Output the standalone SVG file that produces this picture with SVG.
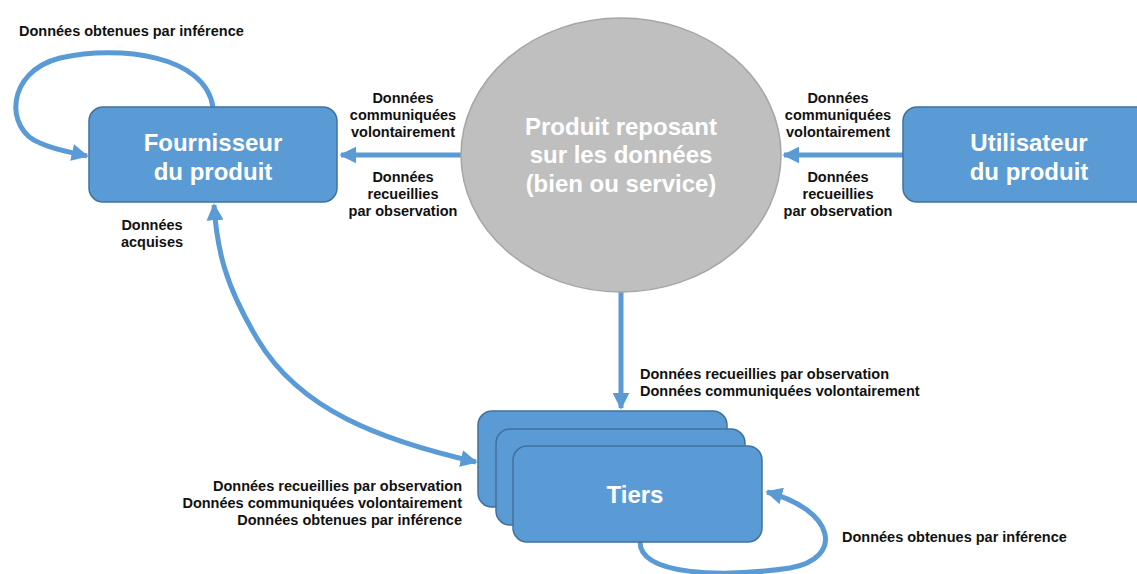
<svg xmlns="http://www.w3.org/2000/svg" width="1137" height="574" viewBox="0 0 1137 574">
  <style>
    .box { fill: #5b9bd5; stroke: #41719c; stroke-width: 1.5; }
    .oval { fill: #bfbfbf; stroke: #a6a6a6; stroke-width: 1.5; }
    .title { font-family: "Liberation Sans", Arial, sans-serif; font-weight: bold; font-size: 24px; fill: #ffffff; text-anchor: middle; }
    .lbl { font-family: "Liberation Sans", Arial, sans-serif; font-weight: bold; font-size: 14.5px; fill: #111111; }
    .mid { text-anchor: middle; }
    .end { text-anchor: end; }
    .wire { fill: none; stroke: #5b9bd5; stroke-width: 5; }
  </style>
  <defs>
    <marker id="head" viewBox="0 0 10 10" refX="9" refY="5" markerWidth="3.4" markerHeight="3.4" orient="auto-start-reverse" markerUnits="strokeWidth">
      <path d="M0,0 L10,5 L0,10 Z" fill="#5b9bd5"/>
    </marker>
  </defs>

  <rect width="1137" height="574" fill="#ffffff"/>

  <!-- connectors -->
  <g id="connectors">
    <path class="wire" d="M461,155 L341,155" marker-end="url(#head)"/>
    <path class="wire" d="M903,155 L784,155" marker-end="url(#head)"/>
    <path class="wire" d="M621,292 L621,408" marker-end="url(#head)"/>
    <path class="wire" d="M213,107 C205,55 120,45 60,58 C5,72 5,130 40,143 C55,150 70,152 87,156" marker-end="url(#head)"/>
    <path class="wire" d="M476,462 C380,440 300,410 258,340 C225,285 217,250 214,205" marker-start="url(#head)" marker-end="url(#head)"/>
    <path class="wire" d="M640,542 C640,575 720,578 790,568 C845,558 835,510 767,492" marker-end="url(#head)"/>
  </g>

  <g id="fournisseur">
    <rect class="box" x="89" y="107" width="248" height="95" rx="14"/>
    <text class="title" x="213" y="151">Fournisseur</text>
    <text class="title" x="213" y="180">du produit</text>
  </g>

  <g id="utilisateur">
    <rect class="box" x="903" y="107" width="250" height="95" rx="14"/>
    <text class="title" x="1029" y="151">Utilisateur</text>
    <text class="title" x="1029" y="180">du produit</text>
  </g>

  <g id="produit">
    <ellipse class="oval" cx="621" cy="155" rx="160" ry="137"/>
    <text class="title" x="621" y="135">Produit reposant</text>
    <text class="title" x="621" y="163">sur les données</text>
    <text class="title" x="621" y="192">(bien ou service)</text>
  </g>

  <g id="tiers">
    <rect class="box" x="478" y="411" width="249" height="96" rx="14"/>
    <rect class="box" x="496" y="429" width="249" height="96" rx="14"/>
    <rect class="box" x="513" y="446" width="249" height="96" rx="14"/>
    <text class="title" x="635" y="503">Tiers</text>
  </g>

  <!-- labels -->
  <g id="labels">
    <text class="lbl" x="19" y="36">Données obtenues par inférence</text>
    <text class="lbl mid" x="403" y="103">Données</text>
    <text class="lbl mid" x="403" y="120">communiquées</text>
    <text class="lbl mid" x="403" y="137">volontairement</text>
    <text class="lbl mid" x="403" y="182">Données</text>
    <text class="lbl mid" x="403" y="199">recueillies</text>
    <text class="lbl mid" x="403" y="216">par observation</text>
    <text class="lbl mid" x="838" y="103">Données</text>
    <text class="lbl mid" x="838" y="120">communiquées</text>
    <text class="lbl mid" x="838" y="137">volontairement</text>
    <text class="lbl mid" x="838" y="182">Données</text>
    <text class="lbl mid" x="838" y="199">recueillies</text>
    <text class="lbl mid" x="838" y="216">par observation</text>
    <text class="lbl mid" x="152" y="230">Données</text>
    <text class="lbl mid" x="152" y="247">acquises</text>
    <text class="lbl" x="640" y="379">Données recueillies par observation</text>
    <text class="lbl" x="640" y="396">Données communiquées volontairement</text>
    <text class="lbl end" x="462" y="491">Données recueillies par observation</text>
    <text class="lbl end" x="462" y="508">Données communiquées volontairement</text>
    <text class="lbl end" x="462" y="525">Données obtenues par inférence</text>
    <text class="lbl" x="842" y="542">Données obtenues par inférence</text>
  </g>
</svg>
